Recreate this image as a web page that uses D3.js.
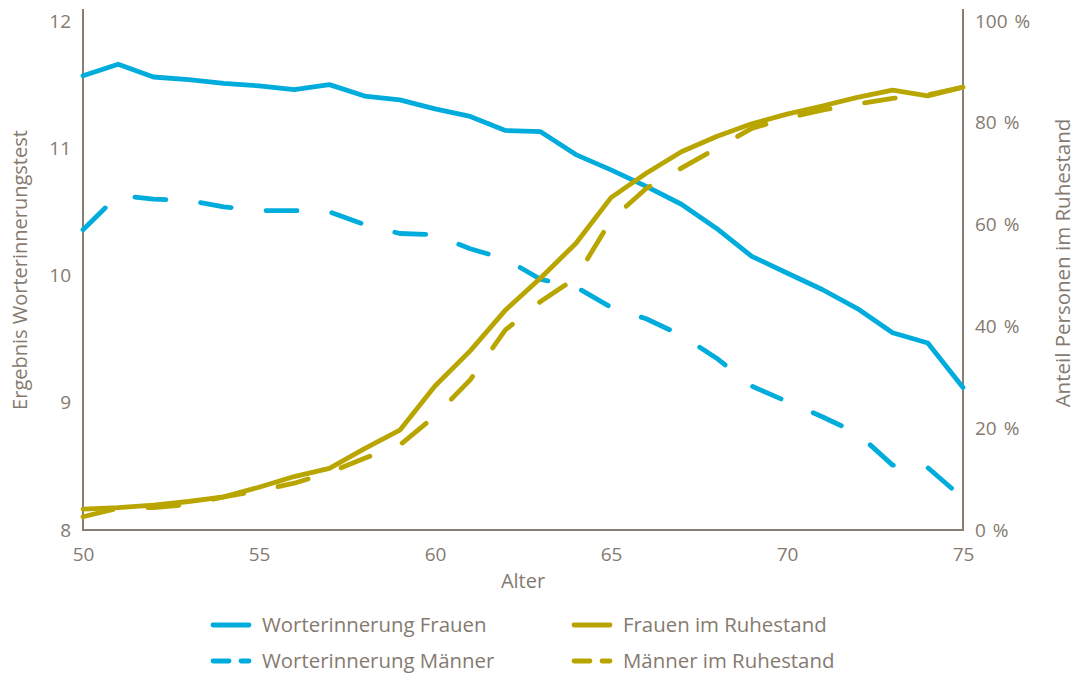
<!DOCTYPE html>
<html>
<head>
<meta charset="utf-8">
<script src="https://cdn.jsdelivr.net/npm/d3@7"></script>
<style>
  body { margin: 0; background: #fff; }
  text { font-family: "Open Sans", sans-serif; fill: #857a70; }
</style>
</head>
<body>
<svg id="chart" width="1083" height="675"></svg>
<script>
// ages on the x axis
var ages = d3.range(50, 76);

// Worterinnerungstest (left axis)
var memWomen = [11.57, 11.66, 11.56, 11.54, 11.51, 11.49, 11.46, 11.50, 11.41, 11.38,
  11.31, 11.25, 11.14, 11.13, 10.95, 10.83, 10.70, 10.56, 10.37, 10.15,
  10.02, 9.89, 9.74, 9.55, 9.47, 9.12];
var memMen = [10.36, 10.63, 10.60, 10.59, 10.54, 10.51, 10.51, 10.50, 10.40, 10.33,
  10.32, 10.21, 10.13, 9.97, 9.91, 9.75, 9.66, 9.53, 9.35, 9.13,
  9.01, 8.89, 8.76, 8.51, 8.49, 8.25];

// Anteil im Ruhestand in % (right axis)
var retWomen = [4.1, 4.4, 4.9, 5.6, 6.5, 8.4, 10.5, 12.1, 16.0, 19.6,
  28.3, 35.2, 43.2, 49.5, 56.3, 65.3, 70.1, 74.3, 77.3, 79.8,
  81.7, 83.3, 85.0, 86.4, 85.3, 87.0];
var retMen = [2.6, 4.3, 4.4, 5.0, 6.5, 7.7, 9.2, 11.3, 14.1, 16.7,
  22.4, 29.5, 39.3, 44.9, 49.5, 60.9, 67.1, 71.1, 75.0, 78.9,
  80.9, 82.5, 83.7, 84.8, 85.5, 87.0];

var xTicks = [50, 55, 60, 65, 70, 75];
var leftTicks = [8, 9, 10, 11, 12];
var rightTicks = [0, 20, 40, 60, 80, 100];

var blue = "#00acdc", olive = "#b8a500", axisCol = "#8a7e74";

var svg = d3.select("#chart");
var x = d3.scaleLinear().domain([50, 75]).range([83, 963]);
var yL = d3.scaleLinear().domain([8, 12]).range([530, 21]);
var yR = d3.scaleLinear().domain([0, 100]).range([530, 21]);

// axes
var gx = svg.append("g").attr("transform", "translate(0,530)")
  .call(d3.axisBottom(x).tickValues(xTicks).tickSize(0).tickPadding(18));
var gl = svg.append("g").attr("transform", "translate(83,0)")
  .call(d3.axisLeft(yL).tickValues(leftTicks).tickSize(0).tickPadding(12).tickFormat(d3.format("d")));
var gr = svg.append("g").attr("transform", "translate(963,0)")
  .call(d3.axisRight(yR).tickValues(rightTicks).tickSize(0).tickPadding(12).tickFormat(function (d) { return d + " %"; }));

[gx, gl, gr].forEach(function (g) {
  g.select(".domain").remove();
  g.selectAll("text").style("font-size", "19px").attr("fill", "#857a70")
    .style("font-family", "'Open Sans', sans-serif");
});
gr.selectAll("text").style("word-spacing", "2px");

svg.append("line").attr("x1", 83).attr("x2", 83).attr("y1", 9).attr("y2", 531)
  .attr("stroke", axisCol).attr("stroke-width", 2);
svg.append("line").attr("x1", 963).attr("x2", 963).attr("y1", 9).attr("y2", 531)
  .attr("stroke", axisCol).attr("stroke-width", 2);
svg.append("line").attr("x1", 82).attr("x2", 964).attr("y1", 530).attr("y2", 530)
  .attr("stroke", axisCol).attr("stroke-width", 2);

// axis titles
svg.append("text").attr("x", 523).attr("y", 588).attr("text-anchor", "middle")
  .style("font-size", "20px").text("Alter");
svg.append("text").attr("transform", "translate(27,270) rotate(-90)").attr("text-anchor", "middle")
  .style("font-size", "20px").text("Ergebnis Worterinnerungstest");
svg.append("text").attr("transform", "translate(1070,263) rotate(-90)").attr("text-anchor", "middle")
  .style("font-size", "20.5px").text("Anteil Personen im Ruhestand");

// lines
var lineL = d3.line().x(function (d, i) { return x(ages[i]); }).y(function (d) { return yL(d); });
var lineR = d3.line().x(function (d, i) { return x(ages[i]); }).y(function (d) { return yR(d); });

var series = [
  { data: memWomen, gen: lineL, color: blue, dash: null },
  { data: memMen, gen: lineL, color: blue, dash: "31 35" },
  { data: retWomen, gen: lineR, color: olive, dash: null },
  { data: retMen, gen: lineR, color: olive, dash: "31 35" }
];

series.forEach(function (s) {
  svg.append("path")
    .attr("d", s.gen(s.data))
    .attr("fill", "none")
    .attr("stroke", s.color)
    .attr("stroke-width", 4.8)
    .attr("stroke-linejoin", "round")
    .attr("stroke-linecap", "round")
    .attr("stroke-dasharray", s.dash);
});

// legend
var legend = [
  { label: "Worterinnerung Frauen", color: blue, dash: null, lx: 213, ly: 625 },
  { label: "Worterinnerung Männer", color: blue, dash: "16 12", lx: 213, ly: 661 },
  { label: "Frauen im Ruhestand", color: olive, dash: null, lx: 574, ly: 625 },
  { label: "Männer im Ruhestand", color: olive, dash: "16 12", lx: 574, ly: 661 }
];

var lg = svg.append("g").selectAll("g").data(legend).enter().append("g")
  .attr("transform", function (d) { return "translate(" + d.lx + "," + d.ly + ")"; });
lg.append("line").attr("x1", 0).attr("x2", 36).attr("y1", 0).attr("y2", 0)
  .attr("stroke", function (d) { return d.color; })
  .attr("stroke-width", 4.8)
  .attr("stroke-linecap", "round")
  .attr("stroke-dasharray", function (d) { return d.dash; });
lg.append("text").attr("x", 49).attr("y", 0).attr("dy", "0.35em")
  .style("font-size", "20.4px").text(function (d) { return d.label; });
</script>
</body>
</html>
